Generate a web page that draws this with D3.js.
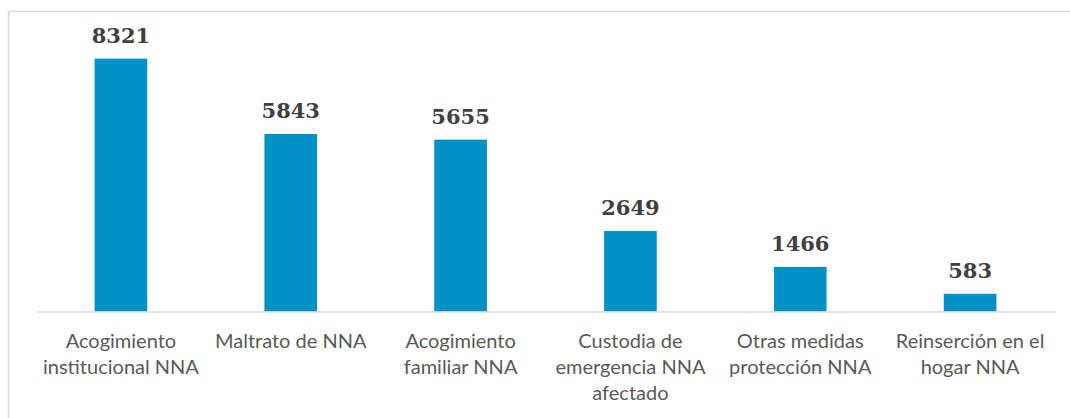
<!DOCTYPE html>
<html>
<head>
<meta charset="utf-8">
<script src="https://cdn.jsdelivr.net/npm/d3@7"></script>
<style>
  body { margin: 0; background: #fff; }
  svg { display: block; }
</style>
</head>
<body>
<div id="chart"></div>
<script>
// data
const categories = [
  "Acogimiento institucional NNA",
  "Maltrato de NNA",
  "Acogimiento familiar NNA",
  "Custodia de emergencia NNA afectado",
  "Otras medidas protección NNA",
  "Reinserción en el hogar NNA"
];
const values = [8321, 5843, 5655, 2649, 1466, 583];
// wrapped tick labels, as in the original
const tickLines = [
  ["Acogimiento", "institucional NNA"],
  ["Maltrato de NNA"],
  ["Acogimiento", "familiar NNA"],
  ["Custodia de", "emergencia NNA", "afectado"],
  ["Otras medidas", "protección NNA"],
  ["Reinserción en el", "hogar NNA"]
];

const svgWidth = 1070, svgHeight = 418;
const margin = { top: 38, right: 15, bottom: 106.5, left: 36 };
const width = svgWidth - margin.left - margin.right;
const height = svgHeight - margin.top - margin.bottom;

const svg = d3.select("#chart").append("svg")
  .attr("width", svgWidth)
  .attr("height", svgHeight);

// chart frame (runs off the right and bottom edges)
svg.append("rect")
  .attr("x", 8.5)
  .attr("y", 11.5)
  .attr("width", svgWidth)
  .attr("height", svgHeight)
  .attr("fill", "none")
  .attr("stroke", "#d9d9d9")
  .attr("stroke-width", 1.5);

const g = svg.append("g")
  .attr("transform", "translate(" + margin.left + "," + margin.top + ")");

const x = d3.scaleBand()
  .domain(categories)
  .range([0, width])
  .paddingInner(0.69)
  .paddingOuter(0.345);

const y = d3.scaleLinear()
  .domain([0, 9000])
  .range([height, 0]);

// bars
g.selectAll(".bar")
  .data(values)
  .enter().append("rect")
  .attr("class", "bar")
  .attr("x", (d, i) => x(categories[i]))
  .attr("y", d => y(d))
  .attr("width", x.bandwidth())
  .attr("height", d => height - y(d))
  .attr("fill", "#0091c6");

// value labels
g.selectAll(".label")
  .data(values)
  .enter().append("text")
  .attr("class", "label")
  .attr("x", (d, i) => x(categories[i]) + x.bandwidth() / 2)
  .attr("y", d => y(d) - 16)
  .attr("text-anchor", "middle")
  .style("font-family", "'DejaVu Serif', serif")
  .style("font-weight", "bold")
  .style("font-size", "21px")
  .style("fill", "#404040")
  .text(d => d);

// x axis, no ticks, labels drawn by hand so they can wrap
const xAxis = d3.axisBottom(x).tickSize(0).tickFormat("");
const axisG = g.append("g")
  .attr("class", "x axis")
  .attr("transform", "translate(0," + height + ")")
  .call(xAxis);
axisG.select(".domain")
  .attr("stroke", "#d9d9d9")
  .attr("stroke-width", 1.5);

axisG.selectAll(".tick").each(function (d, i) {
  const t = d3.select(this).append("text")
    .attr("text-anchor", "middle")
    .attr("fill", "#595959")
    .style("font-family", "Lato, 'Open Sans', sans-serif")
    .style("font-size", "20px");
  tickLines[i].forEach((line, j) => {
    t.append("tspan")
      .attr("x", 0)
      .attr("y", 36 + j * 26)
      .text(line);
  });
});
</script>
</body>
</html>
